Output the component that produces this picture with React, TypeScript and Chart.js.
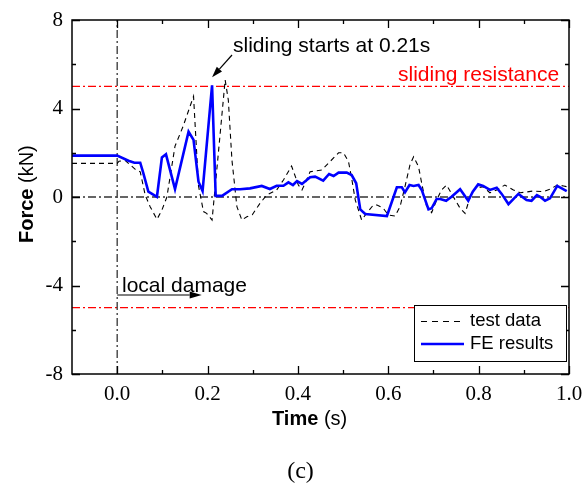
import React, { useEffect, useRef } from "react";
import { Chart, registerables } from "chart.js";

Chart.register(...registerables);

// ---------- data ----------
const feTime = [-0.1, 0.0, 0.025, 0.038, 0.051, 0.058, 0.069, 0.088, 0.099, 0.108, 0.128, 0.158, 0.169, 0.180, 0.189, 0.210, 0.218, 0.232, 0.254, 0.272, 0.294, 0.320, 0.338, 0.353, 0.368, 0.379, 0.389, 0.398, 0.409, 0.427, 0.438, 0.456, 0.469, 0.479, 0.490, 0.508, 0.519, 0.529, 0.538, 0.549, 0.597, 0.619, 0.630, 0.637, 0.647, 0.656, 0.667, 0.674, 0.689, 0.696, 0.707, 0.715, 0.728, 0.740, 0.759, 0.777, 0.787, 0.799, 0.810, 0.825, 0.840, 0.851, 0.866, 0.888, 0.906, 0.917, 0.929, 0.936, 0.947, 0.958, 0.974, 0.984, 0.995];
const feForce = [1.87, 1.87, 1.64, 1.55, 1.55, 1.07, 0.24, 0.01, 1.79, 1.93, 0.36, 2.95, 2.58, 0.69, 0.27, 5.05, 0.05, 0.05, 0.35, 0.35, 0.39, 0.50, 0.36, 0.51, 0.51, 0.66, 0.54, 0.72, 0.59, 0.89, 0.92, 0.74, 1.04, 0.95, 1.10, 1.10, 0.99, 0.62, -0.56, -0.77, -0.86, 0.44, 0.44, 0.21, 0.54, 0.50, 0.54, 0.32, -0.56, -0.51, -0.09, -0.09, -0.17, 0.01, 0.35, -0.17, 0.24, 0.57, 0.50, 0.32, 0.42, 0.14, -0.32, 0.14, -0.14, -0.17, 0.09, 0.01, -0.17, -0.06, 0.50, 0.39, 0.27];

const testTime = [-0.1, 0.0, 0.004, 0.018, 0.040, 0.051, 0.062, 0.073, 0.088, 0.099, 0.110, 0.128, 0.146, 0.169, 0.180, 0.191, 0.198, 0.210, 0.224, 0.239, 0.246, 0.254, 0.265, 0.276, 0.287, 0.299, 0.316, 0.331, 0.353, 0.368, 0.386, 0.401, 0.409, 0.416, 0.427, 0.453, 0.471, 0.490, 0.501, 0.512, 0.519, 0.527, 0.541, 0.552, 0.567, 0.575, 0.589, 0.600, 0.615, 0.626, 0.637, 0.648, 0.656, 0.667, 0.674, 0.684, 0.696, 0.707, 0.718, 0.729, 0.744, 0.759, 0.770, 0.781, 0.792, 0.810, 0.825, 0.840, 0.858, 0.877, 0.892, 0.921, 0.943, 0.958, 0.974, 0.988, 1.0];
const testForce = [1.52, 1.52, 1.62, 1.65, 1.25, 1.14, 0.09, -0.44, -1.01, -0.59, 0.0, 2.3, 3.2, 4.55, 0.5, -0.66, -0.74, -1.04, 2.0, 5.29, 4.38, 1.67, -0.44, -1.04, -0.89, -0.8, -0.29, 0.09, 0.32, 0.77, 1.4, 0.54, 0.32, 0.62, 1.14, 1.22, 1.60, 2.00, 2.00, 1.60, 0.84, -0.14, -1.04, -0.74, -0.36, -0.36, -0.51, -0.81, -0.86, -0.44, 0.47, 1.45, 1.82, 1.37, 0.62, -0.36, -0.71, -0.14, 0.32, 0.54, 0.01, -0.51, -0.74, 0.0, 0.39, 0.47, 0.19, 0.32, 0.54, 0.32, 0.19, 0.27, 0.24, 0.35, 0.54, 0.50, 0.44];

const xTickValues = [0, 0.2, 0.4, 0.6, 0.8, 1.0];
const xMinorValues = [0.1, 0.3, 0.5, 0.7, 0.9];
const yTickValues = [-8, -4, 0, 4, 8];
const yMinorValues = [-6, -2, 2, 6];

const X_MIN = -0.1;
const X_MAX = 1.0;
const Y_MIN = -8;
const Y_MAX = 8;

const slidingResistance = 5;
const damageTime = 0;
const slidingTime = 0.21;
const slidingPeak = 5.05;
const damageArrowEnd = 0.187;
const damageArrowLevel = -4.43;

const seriesNames = ["test data", "FE results"];

const SANS = '"Liberation Sans", Arial, sans-serif';
const SERIF = '"Liberation Serif", "Times New Roman", serif';

function toPoints(xs: number[], ys: number[]) {
  return xs.map((v, i) => ({ x: v, y: ys[i] }));
}

function arrow(ctx: CanvasRenderingContext2D, x0: number, y0: number, x1: number, y1: number, len: number, half: number) {
  const ang = Math.atan2(y1 - y0, x1 - x0);
  const bx = x1 - len * Math.cos(ang);
  const by = y1 - len * Math.sin(ang);
  ctx.beginPath();
  ctx.moveTo(x0, y0);
  ctx.lineTo(bx, by);
  ctx.stroke();
  ctx.beginPath();
  ctx.moveTo(x1, y1);
  ctx.lineTo(bx + half * Math.sin(ang), by - half * Math.cos(ang));
  ctx.lineTo(bx - half * Math.sin(ang), by + half * Math.cos(ang));
  ctx.closePath();
  ctx.fill();
}

const decorPlugin = {
  id: "decor",
  afterDatasetsDraw(chart: any) {
    const ctx: CanvasRenderingContext2D = chart.ctx;
    const a = chart.chartArea;
    const xs = chart.scales.x;
    const ys = chart.scales.y;
    ctx.save();

    // frame
    ctx.strokeStyle = "#000";
    ctx.lineWidth = 1.5;
    ctx.setLineDash([]);
    ctx.strokeRect(a.left, a.top, a.right - a.left, a.bottom - a.top);

    // ticks (inward, all four sides)
    ctx.lineWidth = 1.3;
    const drawX = (vals: number[], len: number) => {
      vals.forEach((v) => {
        const p = Math.round(xs.getPixelForValue(v)) + 0.5;
        ctx.beginPath();
        ctx.moveTo(p, a.bottom);
        ctx.lineTo(p, a.bottom - len);
        ctx.moveTo(p, a.top);
        ctx.lineTo(p, a.top + len);
        ctx.stroke();
      });
    };
    const drawY = (vals: number[], len: number) => {
      vals.forEach((v) => {
        const p = Math.round(ys.getPixelForValue(v)) + 0.5;
        ctx.beginPath();
        ctx.moveTo(a.left, p);
        ctx.lineTo(a.left + len, p);
        ctx.moveTo(a.right, p);
        ctx.lineTo(a.right - len, p);
        ctx.stroke();
      });
    };
    drawX(xTickValues, 8);
    drawX(xMinorValues, 4);
    drawY(yTickValues, 8);
    drawY(yMinorValues, 4);

    // annotations
    ctx.fillStyle = "#000";
    ctx.strokeStyle = "#000";
    ctx.lineWidth = 1.2;
    ctx.textBaseline = "alphabetic";
    ctx.textAlign = "left";
    ctx.font = `21px ${SANS}`;
    ctx.fillText("sliding starts at 0.21s", 233, 52);
    const tipX = xs.getPixelForValue(slidingTime);
    const tipY = ys.getPixelForValue(slidingPeak) - 8;
    arrow(ctx, 232, 55, tipX, tipY, 11, 3.5);

    ctx.fillStyle = "#ff0000";
    ctx.fillText("sliding resistance", 398, ys.getPixelForValue(slidingResistance) - 5.5);

    ctx.fillStyle = "#000";
    ctx.fillText("local damage", 122, 291.5);
    const dy = ys.getPixelForValue(damageArrowLevel);
    arrow(ctx, xs.getPixelForValue(damageTime), dy, xs.getPixelForValue(damageArrowEnd), dy, 12, 3.5);

    // legend
    ctx.fillStyle = "#fff";
    ctx.fillRect(414, 305, 152, 56);
    ctx.strokeStyle = "#000";
    ctx.lineWidth = 1;
    ctx.strokeRect(414.5, 305.5, 152, 56);
    ctx.lineWidth = 1.2;
    ctx.setLineDash([6, 5]);
    ctx.beginPath();
    ctx.moveTo(421, 321.5);
    ctx.lineTo(461, 321.5);
    ctx.stroke();
    ctx.setLineDash([]);
    ctx.strokeStyle = "#0000ff";
    ctx.lineWidth = 2.6;
    ctx.beginPath();
    ctx.moveTo(421, 344);
    ctx.lineTo(464, 344);
    ctx.stroke();
    ctx.fillStyle = "#000";
    ctx.font = `18.5px ${SANS}`;
    ctx.textBaseline = "middle";
    ctx.fillText(seriesNames[0], 470, 321);
    ctx.fillText(seriesNames[1], 470, 343.5);

    // axis titles
    ctx.textBaseline = "alphabetic";
    ctx.font = `bold 20px ${SANS}`;
    const t1 = "Time";
    ctx.fillText(t1, 272, 425);
    const w1 = ctx.measureText(t1).width;
    ctx.font = `20px ${SANS}`;
    ctx.fillText(" (s)", 272 + w1, 425);

    ctx.save();
    ctx.translate(33, 243);
    ctx.rotate(-Math.PI / 2);
    ctx.font = `bold 20px ${SANS}`;
    const f1 = "Force";
    ctx.fillText(f1, 0, 0);
    const wf = ctx.measureText(f1).width;
    ctx.font = `20px ${SANS}`;
    ctx.fillText(" (kN)", wf, 0);
    ctx.restore();

    // caption
    ctx.font = `24px ${SERIF}`;
    ctx.textAlign = "center";
    ctx.fillText("(c)", 300.5, 478);

    ctx.restore();
  },
};

export default function App() {
  const ref = useRef<HTMLCanvasElement | null>(null);

  useEffect(() => {
    if (!ref.current) return;
    const dashDot = [8, 3, 2, 3];
    const chart = new Chart(ref.current, {
      type: "scatter",
      data: {
        datasets: [
          {
            label: seriesNames[1],
            data: toPoints(feTime, feForce),
            showLine: true,
            borderColor: "#0000ff",
            borderWidth: 2.6,
            pointRadius: 0,
            tension: 0,
          },
          {
            label: seriesNames[0],
            data: toPoints(testTime, testForce),
            showLine: true,
            borderColor: "#000",
            borderWidth: 1.1,
            borderDash: [5, 4],
            pointRadius: 0,
            tension: 0,
          },
          {
            label: "zero",
            data: [{ x: X_MIN, y: 0 }, { x: X_MAX, y: 0 }],
            showLine: true,
            borderColor: "#333",
            borderWidth: 1.3,
            borderDash: dashDot,
            pointRadius: 0,
          },
          {
            label: "damage",
            data: [{ x: damageTime, y: Y_MIN }, { x: damageTime, y: Y_MAX }],
            showLine: true,
            borderColor: "#333",
            borderWidth: 1.3,
            borderDash: dashDot,
            pointRadius: 0,
          },
          {
            label: "resistance+",
            data: [{ x: X_MIN, y: slidingResistance }, { x: X_MAX, y: slidingResistance }],
            showLine: true,
            borderColor: "#ff0000",
            borderWidth: 1.3,
            borderDash: dashDot,
            pointRadius: 0,
          },
          {
            label: "resistance-",
            data: [{ x: X_MIN, y: -slidingResistance }, { x: X_MAX, y: -slidingResistance }],
            showLine: true,
            borderColor: "#ff0000",
            borderWidth: 1.3,
            borderDash: dashDot,
            pointRadius: 0,
          },
        ],
      },
      options: {
        animation: false,
        responsive: true,
        maintainAspectRatio: false,
        layout: { padding: { top: 20, right: 15, left: 0, bottom: 0 } },
        plugins: {
          legend: { display: false },
          tooltip: { enabled: false },
        },
        scales: {
          x: {
            type: "linear",
            min: X_MIN,
            max: X_MAX,
            grid: { display: false, drawTicks: false },
            border: { display: false },
            afterBuildTicks: (s: any) => {
              s.ticks = xTickValues.map((v) => ({ value: v }));
            },
            afterFit: (s: any) => {
              s.height = 111;
              s.paddingLeft = 0;
              s.paddingRight = 0;
            },
            ticks: {
              color: "#000",
              font: { family: SERIF, size: 21 },
              padding: 8,
              maxRotation: 0,
              autoSkip: false,
              callback: (v: any) => Number(v).toFixed(1),
            },
          },
          y: {
            type: "linear",
            min: Y_MIN,
            max: Y_MAX,
            grid: { display: false, drawTicks: false },
            border: { display: false },
            afterBuildTicks: (s: any) => {
              s.ticks = yTickValues.map((v) => ({ value: v }));
            },
            afterFit: (s: any) => {
              s.width = 72;
              s.paddingTop = 0;
              s.paddingBottom = 0;
            },
            ticks: {
              color: "#000",
              font: { family: SERIF, size: 21 },
              padding: 9,
              autoSkip: false,
              callback: (v: any) => String(v),
            },
          },
        },
      },
      plugins: [decorPlugin],
    });
    return () => chart.destroy();
  }, []);

  return (
    <div style={{ position: "fixed", left: 0, top: 0, width: 584, height: 485, background: "#fff" }}>
      <canvas ref={ref} />
    </div>
  );
}
